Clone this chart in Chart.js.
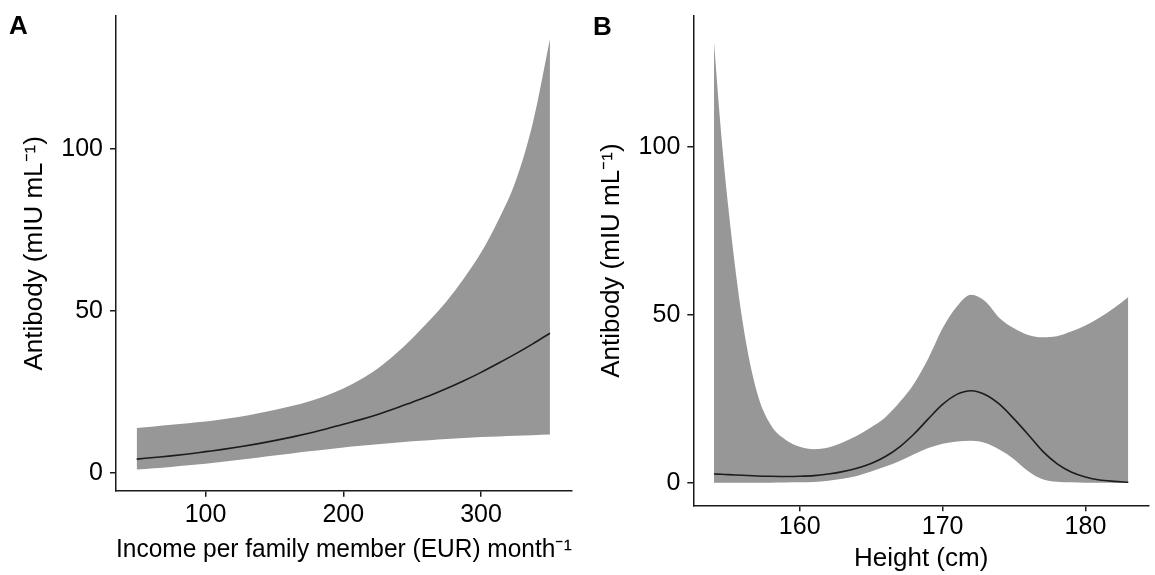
<!DOCTYPE html>
<html lang="en">
<head>
  <meta charset="UTF-8">
  <title>Antibody vs income and height</title>
  <script src="https://cdn.jsdelivr.net/npm/chart.js"></script>
  <style>
    body {
      margin: 0;
      background: #fff;
      width: 1155px;
      height: 575px;
      overflow: hidden;
      position: relative;
    }
    .panel { position: absolute; top: 0; }
    #panelA { left: 0; }
    #panelB { left: 578px; }
  </style>
</head>
<body>
  <div class="panel" id="panelA"><canvas id="chartA" width="578" height="575"></canvas></div>
  <div class="panel" id="panelB"><canvas id="chartB" width="577" height="575"></canvas></div>

  <script>
    // Panel A: income per family member (EUR / month)
    const incomeX     = [50, 62.5, 75, 87.5, 100, 112.5, 125, 137.5, 150, 162.5, 175, 187.5, 200,
                         212.5, 225, 237.5, 250, 262.5, 275, 287.5, 300, 312.5, 325, 337.5, 350];
    const incomeFit   = [4.2, 4.7, 5.2, 5.8, 6.5, 7.2, 8.0, 8.9, 9.9, 11.0, 12.2, 13.5, 15.0,
                         16.4, 18.0, 19.8, 21.8, 23.8, 26.0, 28.4, 31.0, 33.8, 36.7, 39.8, 43.1];
    const incomeLower = [1.0, 1.4, 1.8, 2.3, 2.8, 3.4, 4.0, 4.65, 5.3, 5.95, 6.6, 7.2, 7.8,
                         8.3, 8.8, 9.25, 9.7, 10.05, 10.4, 10.7, 11.0, 11.2, 11.4, 11.6, 11.8];
    const incomeUpper = [13.8, 14.3, 14.8, 15.3, 15.8, 16.5, 17.3, 18.3, 19.4, 20.6, 22.0, 23.8, 26.0,
                         28.8, 32.2, 36.5, 41.5, 47.0, 53.0, 60.0, 68.0, 78.0, 90.0, 108.0, 134.0];
    const incomeTicks = [100, 200, 300];

    // Panel B: height (cm)
    const heightX     = [154, 154.5, 155, 156, 157, 158, 159, 160, 161, 162, 163, 164, 165, 166, 167, 168,
                         169, 170, 171, 172, 173, 174, 175, 176, 177, 178, 179, 180, 181, 182, 183];
    const heightFit   = [2.6, 2.5, 2.4, 2.2, 2.0, 1.9, 1.85, 1.9, 2.1, 2.6, 3.3, 4.3, 5.7, 7.8, 10.7, 14.5,
                         19.0, 23.3, 26.3, 27.4, 26.2, 23.3, 19.0, 14.3, 9.4, 5.7, 3.2, 1.7, 0.8, 0.4, 0.15];
    const heightLower = [0, 0, 0, 0, 0, 0, 0.05, 0.1, 0.2, 0.6, 1.2, 2.0, 3.3, 4.8, 6.5, 8.5,
                         10.3, 11.6, 12.3, 12.5, 11.8, 9.8, 7.0, 3.4, 1.0, 0.25, 0.1, 0, 0, 0, 0];
    const heightUpper = [131, 104, 82, 48, 27, 17, 12.8, 10.7, 10.0, 10.5, 12.0, 14.0, 16.5, 19.5, 24.0, 29.5,
                         37.0, 46.0, 52.5, 56.0, 54.0, 49.0, 46.0, 44.0, 43.3, 43.6, 45.0, 46.8, 49.2, 52.0, 55.3];
    const heightTicks = [160, 170, 180];

    const antibodyTicks = [0, 50, 100];

    const FONT = "'Liberation Sans', Arial, Helvetica, sans-serif";
    const bandColor = '#979797';
    const lineColor = '#1c1c1c';
    const axisColor = '#1a1a1a';

    Chart.defaults.font.family = FONT;
    Chart.defaults.color = '#000';

    function toPoints(xs, ys) {
      return xs.map((x, i) => ({ x: x, y: ys[i] }));
    }

    const panelLetter = {
      id: 'panelLetter',
      afterDraw(chart, args, opts) {
        const ctx = chart.ctx;
        ctx.save();
        ctx.font = 'bold 26px ' + FONT;
        ctx.fillStyle = '#000';
        ctx.textBaseline = 'alphabetic';
        ctx.fillText(opts.text, opts.x, opts.y);
        ctx.restore();
      }
    };

    function makeChart(id, cfg) {
      const canvas = document.getElementById(id);
      const H = canvas.height;
      const W = canvas.width;

      return new Chart(canvas.getContext('2d'), {
        type: 'line',
        data: {
          datasets: [
            {
              // confidence band: upper edge filled down to the next dataset
              data: toPoints(cfg.xs, cfg.upper),
              borderColor: 'transparent',
              borderWidth: 0,
              backgroundColor: bandColor,
              pointRadius: 0,
              fill: '+1',
              order: 1,
              cubicInterpolationMode: 'monotone'
            },
            {
              data: toPoints(cfg.xs, cfg.lower),
              borderColor: 'transparent',
              borderWidth: 0,
              pointRadius: 0,
              fill: false,
              order: 1,
              cubicInterpolationMode: 'monotone'
            },
            {
              // fitted curve, drawn on top of the band
              data: toPoints(cfg.xs, cfg.fit),
              borderColor: lineColor,
              borderWidth: 1.6,
              pointRadius: 0,
              fill: false,
              order: 0,
              cubicInterpolationMode: 'monotone'
            }
          ]
        },
        options: {
          responsive: false,
          animation: false,
          events: [],
          layout: { padding: { left: 0, top: cfg.top, right: W - cfg.right, bottom: 0 } },
          plugins: {
            legend: { display: false },
            tooltip: { enabled: false },
            panelLetter: cfg.letter
          },
          scales: {
            x: {
              type: 'linear',
              min: cfg.xMin,
              max: cfg.xMax,
              afterBuildTicks: s => { s.ticks = cfg.xTicks.map(v => ({ value: v })); },
              afterFit: s => {
                s.height = H - cfg.bottom;
                s.paddingLeft = 0;
                s.paddingRight = 0;
              },
              grid: { drawOnChartArea: false, drawTicks: true, tickLength: 6, color: axisColor, lineWidth: 1.5 },
              border: { display: true, color: axisColor, width: 1.5 },
              ticks: { color: '#000', font: { size: 25 }, padding: cfg.xTickPad, maxRotation: 0 },
              title: {
                display: true,
                text: cfg.xTitle,
                color: '#000',
                font: { size: 26 },
                padding: { top: 0, bottom: cfg.xTitlePad }
              }
            },
            y: {
              type: 'linear',
              min: cfg.yMin,
              max: cfg.yMax,
              afterBuildTicks: s => { s.ticks = antibodyTicks.map(v => ({ value: v })); },
              afterFit: s => {
                s.width = cfg.left;
                s.paddingTop = 0;
                s.paddingBottom = 0;
              },
              grid: { drawOnChartArea: false, drawTicks: true, tickLength: 6, color: axisColor, lineWidth: 1.5 },
              border: { display: true, color: axisColor, width: 1.5 },
              ticks: { color: '#000', font: { size: 25 }, padding: 7 },
              title: {
                display: true,
                text: 'Antibody (mIU mL\u207B\u00B9)',
                color: '#000',
                font: { size: 26 },
                padding: { top: cfg.yTitlePad, bottom: 0 }
              }
            }
          }
        },
        plugins: [panelLetter]
      });
    }

    makeChart('chartA', {
      xs: incomeX, fit: incomeFit, lower: incomeLower, upper: incomeUpper,
      xTicks: incomeTicks,
      xMin: 35, xMax: 366, yMin: -5.56, yMax: 141.1,
      left: 116, right: 572, top: 16, bottom: 490.7,
      xTickPad: 3.5, xTitlePad: 9.5, yTitlePad: 19,
      xTitle: 'Income per family member (EUR) month\u207B\u00B9',
      letter: { text: 'A', x: 9, y: 34 }
    });

    makeChart('chartB', {
      xs: heightX, fit: heightFit, lower: heightLower, upper: heightUpper,
      xTicks: heightTicks,
      xMin: 152.55, xMax: 184.45, yMin: -6.73, yMax: 139.0,
      left: 115.3, right: 571, top: 16, bottom: 505.3,
      xTickPad: 1.2, xTitlePad: 0.5, yTitlePad: 18.5,
      xTitle: 'Height (cm)',
      letter: { text: 'B', x: 15, y: 35 }
    });
  </script>
</body>
</html>
